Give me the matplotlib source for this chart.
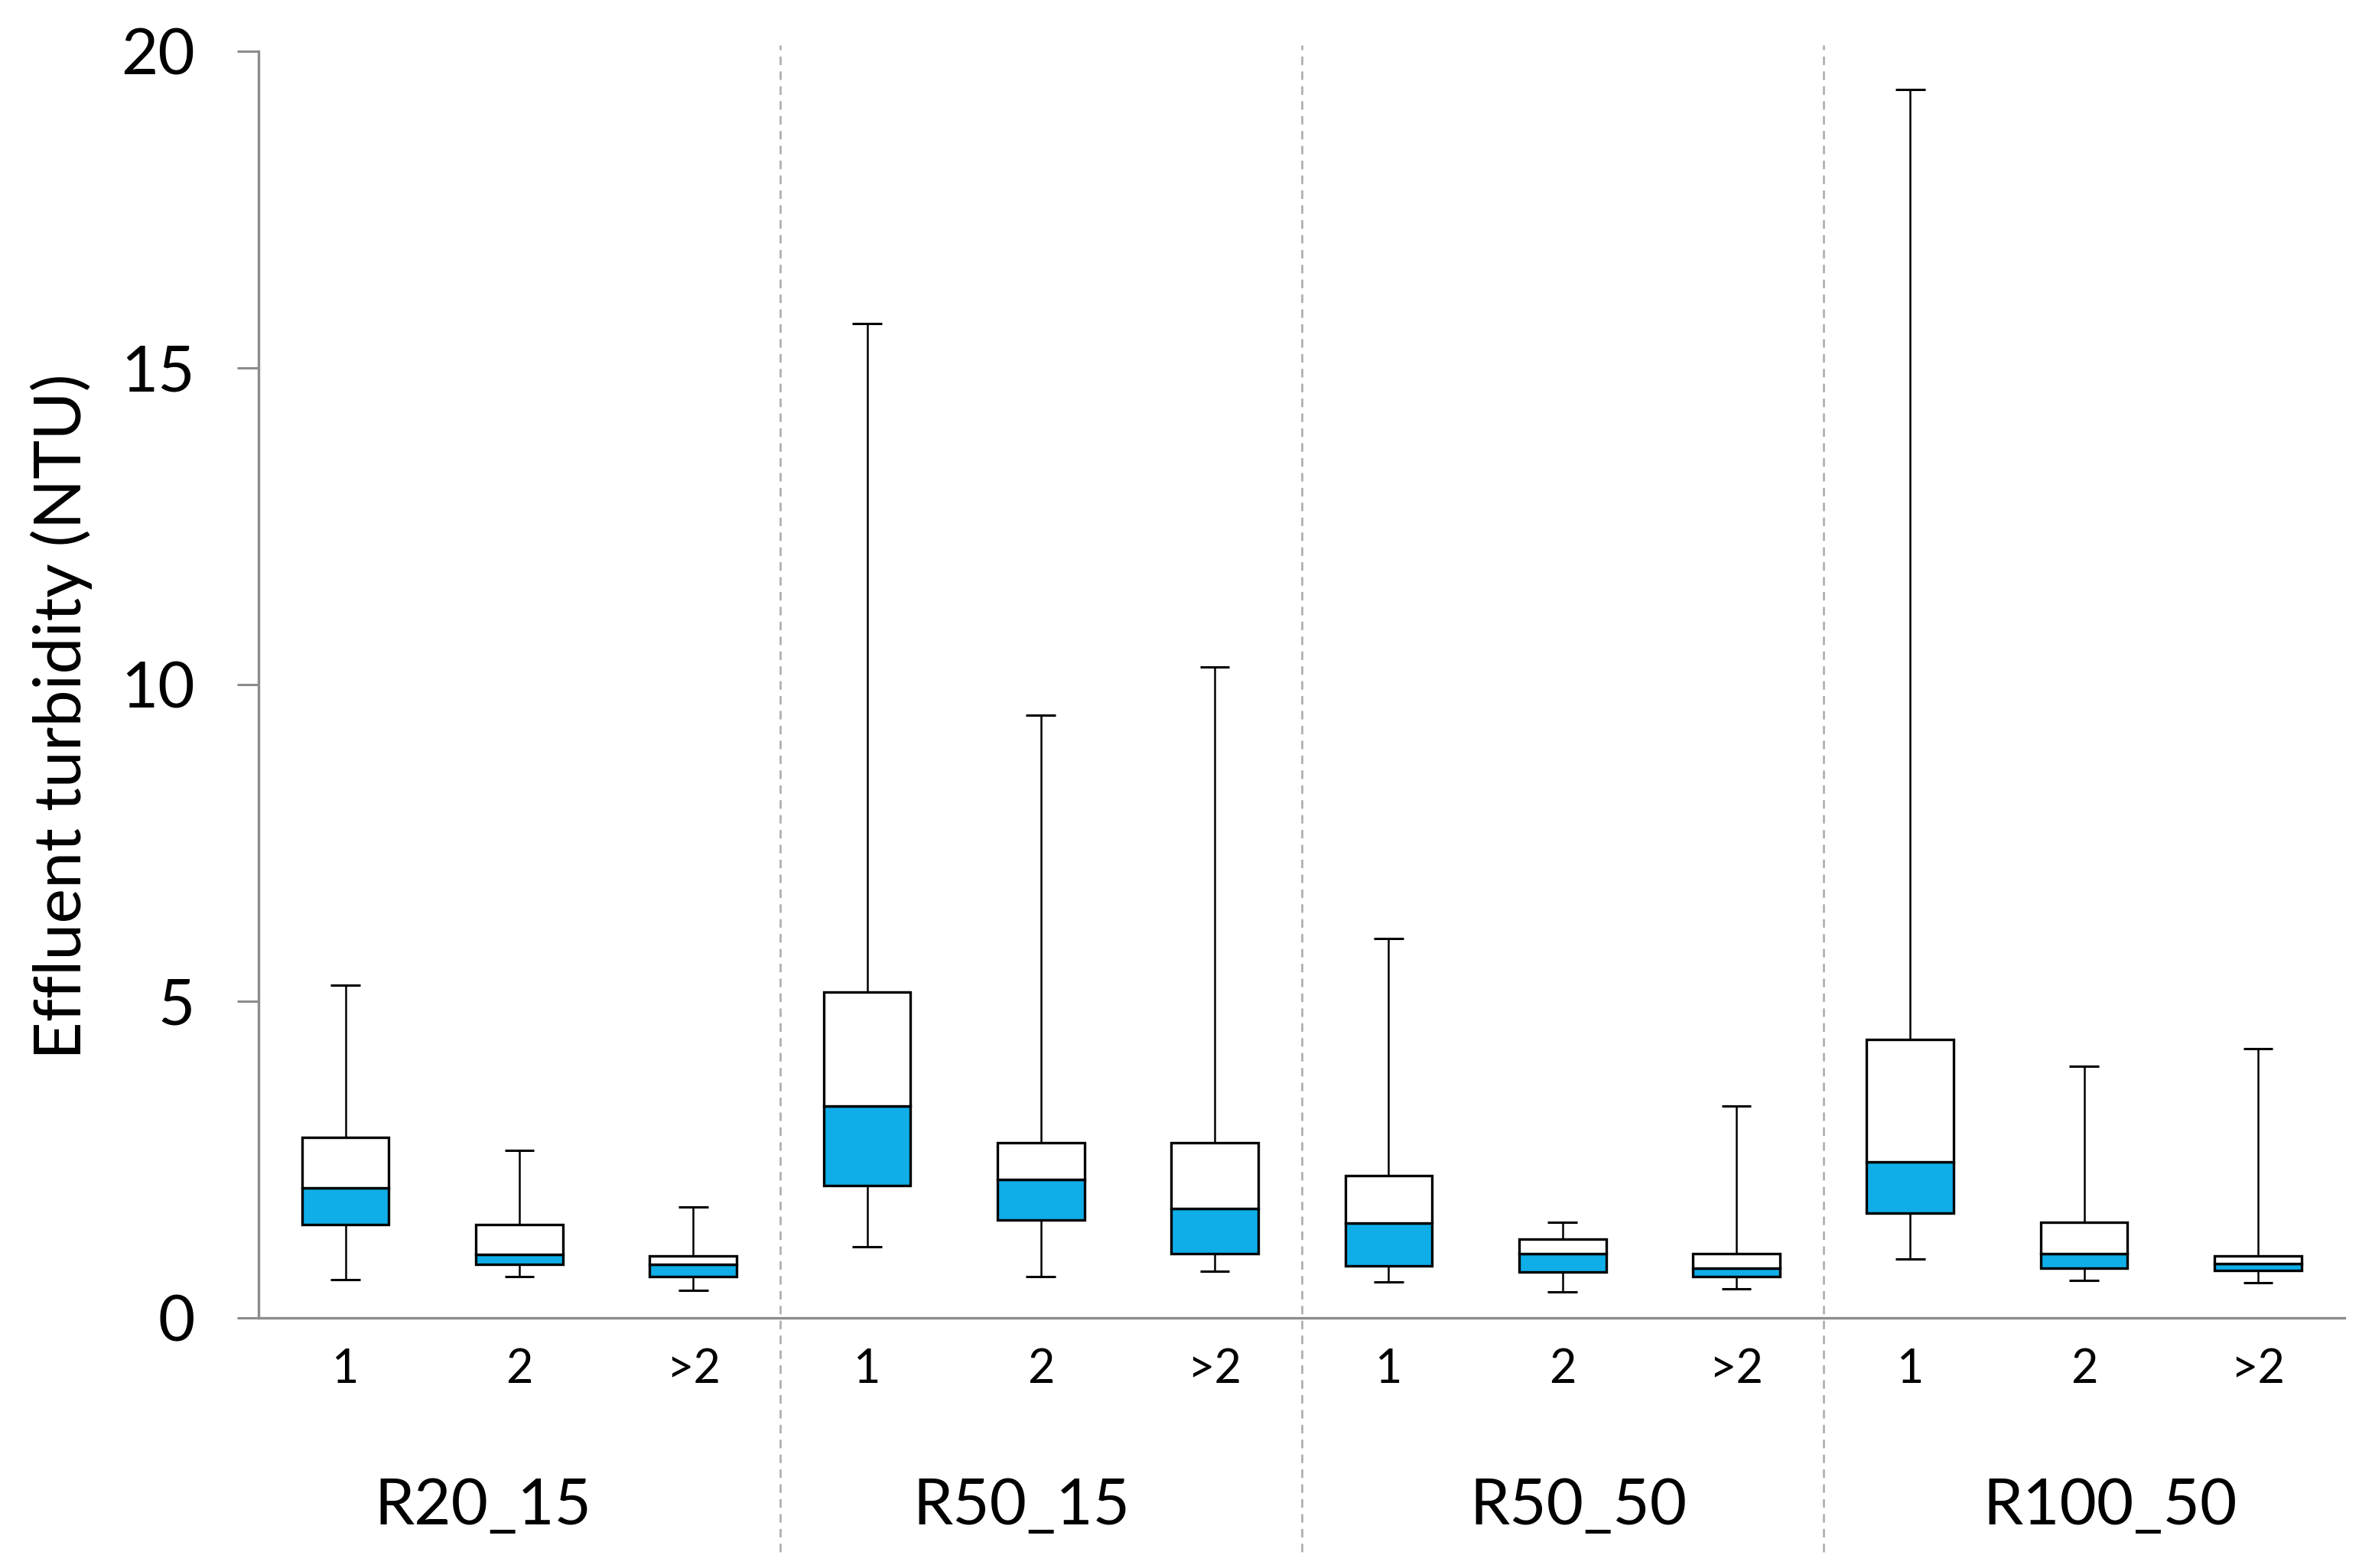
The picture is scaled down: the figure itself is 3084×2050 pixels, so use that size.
import matplotlib
matplotlib.use('Agg')
import matplotlib.pyplot as plt
import matplotlib.transforms as mtransforms

plt.rcParams['font.family'] = ['Lato', 'DejaVu Sans']

# data
groups = ['R20_15', 'R50_15', 'R50_50', 'R100_50']
sub_labels = ['1', '2', '>2']

mins = [0.60, 0.65, 0.44,
        1.12, 0.65, 0.74,
        0.57, 0.41, 0.46,
        0.93, 0.59, 0.55]
q1 = [1.47, 0.84, 0.65,
      2.09, 1.55, 1.02,
      0.82, 0.73, 0.65,
      1.65, 0.78, 0.75]
medians = [2.05, 1.00, 0.84,
           3.35, 2.19, 1.73,
           1.50, 1.01, 0.79,
           2.47, 1.02, 0.86]
q3 = [2.85, 1.47, 0.98,
      5.15, 2.76, 2.76,
      2.25, 1.24, 1.02,
      4.40, 1.51, 0.98]
maxs = [5.25, 2.65, 1.75,
        15.70, 9.52, 10.28,
        5.99, 1.51, 3.35,
        19.40, 3.97, 4.25]

# group labels are not exactly centred in the original
group_label_x = [0.79, 3.89, 7.09, 10.15]

blue = '#0FAEE8'
axis_gray = '#8c8c8c'

fig = plt.figure(figsize=(30.84, 20.5), dpi=100)
ax = fig.add_axes([0.1096, 0.1595, 0.8844, 0.8078])

x = list(range(len(medians)))
low_h = [m - a for m, a in zip(medians, q1)]
up_h = [b - m for b, m in zip(q3, medians)]

# whiskers
ax.vlines(x, mins, q1, color='black', lw=1.8, zorder=1)
ax.vlines(x, q3, maxs, color='black', lw=1.8, zorder=1)
ax.hlines(mins, [i - 0.085 for i in x], [i + 0.085 for i in x], color='black', lw=2.2, zorder=1)
ax.hlines(maxs, [i - 0.085 for i in x], [i + 0.085 for i in x], color='black', lw=2.2, zorder=1)

# boxes: blue lower half, white upper half
ax.bar(x, low_h, bottom=q1, width=0.5, color=blue, edgecolor='black', lw=2.4, zorder=2)
ax.bar(x, up_h, bottom=medians, width=0.5, color='white', edgecolor='black', lw=2.4, zorder=2)

ax.set_xlim(-0.5, len(x) - 0.5)
ax.set_ylim(0, 20)
ax.set_yticks([0, 5, 10, 15, 20])
ax.set_xticks(x, sub_labels * len(groups))

ax.tick_params(axis='y', length=20, width=2.2, color=axis_gray, labelsize=60, pad=40)
ax.tick_params(axis='x', length=0, labelsize=44, pad=28)

for s in ['top', 'right']:
    ax.spines[s].set_visible(False)
for s in ['left', 'bottom']:
    ax.spines[s].set_color(axis_gray)
    ax.spines[s].set_linewidth(2.4)

# group separators
for k in range(1, len(groups)):
    ax.axvline(k * 3 - 0.5, ymin=-0.185, ymax=1.005, color='#b0b0b0', lw=2.0,
               ls=(0, (4, 3)), clip_on=False, zorder=0)

trans = mtransforms.blended_transform_factory(ax.transData, ax.transAxes)
for gx, g in zip(group_label_x, groups):
    ax.text(gx, -0.149, g, transform=trans, ha='center', va='center', fontsize=60)

fig.text(80 / 3084, 0.543, 'Effluent turbidity (NTU)', rotation=90, ha='center', va='center',
         fontsize=62)

fig.savefig('out.png', dpi=100)
